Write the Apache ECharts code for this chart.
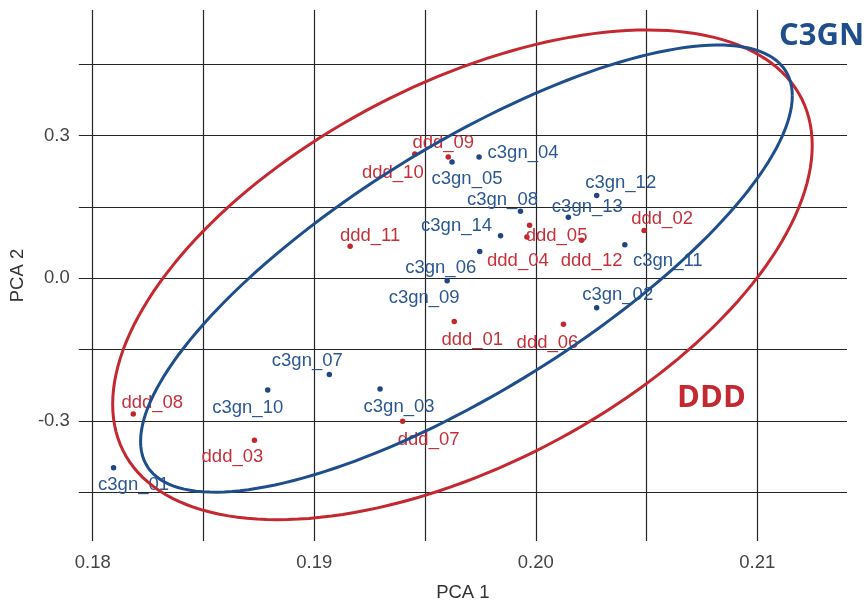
<!DOCTYPE html>
<html>
<head>
<meta charset="utf-8">
<script src="https://cdn.jsdelivr.net/npm/echarts@6/dist/echarts.min.js"></script>
<style>html,body{margin:0;padding:0;background:#fff}#c{width:866px;height:607px}</style>
</head>
<body>
<div id="c"></div>
<script>
// ---- data ----
var c3gnNames = ['c3gn_01','c3gn_02','c3gn_03','c3gn_04','c3gn_05','c3gn_06','c3gn_07','c3gn_08','c3gn_09','c3gn_10','c3gn_11','c3gn_12','c3gn_13','c3gn_14'];
var c3gnX = [0.18094,0.20275,0.19297,0.19744,0.19622,0.19747,0.19068,0.19931,0.19600,0.18790,0.20402,0.20275,0.20147,0.19841];
var c3gnY = [-0.3983,-0.0622,-0.2330,0.2546,0.2442,0.0560,-0.2025,0.1405,-0.0054,-0.2351,0.0705,0.1737,0.1280,0.0892];

var dddNames = ['ddd_01','ddd_02','ddd_03','ddd_04','ddd_05','ddd_06','ddd_07','ddd_08','ddd_09','ddd_10','ddd_11','ddd_12'];
var dddX = [0.19632,0.20489,0.18730,0.19960,0.19972,0.20125,0.19399,0.18183,0.19605,0.19454,0.19162,0.20207];
var dddY = [-0.0913,0.1004,-0.3409,0.0865,0.1114,-0.0967,-0.3008,-0.2855,0.2546,0.2608,0.0672,0.0797];

// ellipses: centre x, centre y, first half-axis vector (dx, dy), second half-axis vector (dx, dy)
var c3gnEllipse = [0.19687, 0.0201, 0.014710, 0.3631, 0, -0.2983];
var dddEllipse  = [0.19669, 0.0070, 0.015790, 0.2719, 0, -0.4370];

var xGridValues = [0.18,0.185,0.19,0.195,0.20,0.205,0.21];
var xLabelValues = [0.18,0.19,0.20,0.21];
var yGridValues = [-0.45,-0.3,-0.15,0,0.15,0.3,0.45];
var yLabelValues = [-0.3,0,0.3];

// ---- label placement (pixel offsets of each label centre from its point) ----
var c3gnLabelOffsets = [[20,16],[21,-14],[19,16.5],[44,-5.5],[15,15],[-39,15],[-22,-15],[-18,-12.5],[-23,16],[-20,16.5],[43,15],[24,-14.5],[19,-11.5],[-44,-11]];
var dddLabelOffsets = [[18,17],[18,-13],[-22,15.5],[-9,22.5],[27,9.5],[-16,17],[26,17],[19,-13],[-5,-16],[-22,17.5],[20,-12],[10,19]];

var BLUE = '#1f4e8c';
var RED = '#c42830';
var BLUE_PT = '#1f4584';
var RED_PT = '#c1272d';
var BLUE_TXT = '#2b5894';
var RED_TXT = '#c5303a';
var FONT = 'Liberation Sans, Arial, Helvetica, sans-serif';

function buildPoints(names, xs, ys) {
  return names.map(function (n, i) {
    return { name: n, value: [xs[i], ys[i]] };
  });
}

function ellipseRender(color) {
  return function (params, api) {
    var cx = api.value(0), cy = api.value(1), ux = api.value(2), uy = api.value(3), vx = api.value(4), vy = api.value(5);
    var pts = [];
    var N = 180;
    for (var k = 0; k <= N; k++) {
      var t = 2 * Math.PI * k / N;
      pts.push(api.coord([cx + ux * Math.cos(t) + vx * Math.sin(t), cy + uy * Math.cos(t) + vy * Math.sin(t)]));
    }
    return {
      type: 'polyline',
      shape: { points: pts, smooth: 0 },
      style: { fill: null, stroke: color, lineWidth: 3 }
    };
  };
}

function layoutFrom(offsets) {
  return function (params) {
    var o = offsets[params.dataIndex] || [0, 0];
    return { dx: o[0], dy: o[1] + 1.5, hideOverlap: false };
  };
}

var chart = echarts.init(document.getElementById('c'), null, { renderer: 'canvas' });

var scatterLabel = function (color) {
  return {
    show: true,
    position: 'inside',
    formatter: '{b}',
    color: color,
    fontFamily: FONT,
    fontSize: 18.5,
    align: 'center',
    verticalAlign: 'middle'
  };
};

chart.setOption({
  backgroundColor: '#fff',
  animation: false,
  grid: { left: 76, right: 19, top: 10, bottom: 59, containLabel: false },
  xAxis: {
    type: 'value',
    min: 0.17937,
    max: 0.21405,
    name: 'PCA 1',
    nameLocation: 'middle',
    nameGap: 42,
    nameTextStyle: { fontFamily: FONT, fontSize: 18.5, color: '#333' },
    axisLine: { show: false },
    axisTick: { show: false, customValues: xGridValues },
    axisLabel: {
      customValues: xLabelValues,
      formatter: function (v) { return v.toFixed(2); },
      fontFamily: FONT, fontSize: 18.5, color: '#444', margin: 12
    },
    splitLine: { show: true, lineStyle: { color: '#262626', width: 1.2 } }
  },
  yAxis: {
    type: 'value',
    min: -0.5525,
    max: 0.5637,
    name: 'PCA 2',
    nameLocation: 'middle',
    nameGap: 45,
    nameRotate: 90,
    nameTextStyle: { fontFamily: FONT, fontSize: 18.5, color: '#333' },
    axisLine: { show: false },
    axisTick: { show: false, customValues: yGridValues },
    axisLabel: {
      customValues: yLabelValues,
      formatter: function (v) { return v.toFixed(1); },
      fontFamily: FONT, fontSize: 18.5, color: '#444', margin: 9
    },
    splitLine: { show: true, lineStyle: { color: '#262626', width: 1.2 } }
  },
  series: [
    {
      type: 'scatter',
      name: 'DDD',
      symbol: 'circle',
      symbolSize: 5.5,
      itemStyle: { color: RED_PT, opacity: 1 },
      label: scatterLabel(RED_TXT),
      labelLayout: layoutFrom(dddLabelOffsets),
      data: buildPoints(dddNames, dddX, dddY),
      z: 3
    },
    {
      type: 'scatter',
      name: 'C3GN',
      symbol: 'circle',
      symbolSize: 5.5,
      itemStyle: { color: BLUE_PT, opacity: 1 },
      label: scatterLabel(BLUE_TXT),
      labelLayout: layoutFrom(c3gnLabelOffsets),
      data: buildPoints(c3gnNames, c3gnX, c3gnY),
      z: 3
    },
    {
      type: 'custom',
      name: 'DDD ellipse',
      renderItem: ellipseRender(RED),
      encode: { x: 0, y: 1 },
      data: [dddEllipse],
      silent: true,
      z: 5
    },
    {
      type: 'custom',
      name: 'C3GN ellipse',
      renderItem: ellipseRender(BLUE),
      encode: { x: 0, y: 1 },
      data: [c3gnEllipse],
      silent: true,
      z: 6
    }
  ],
  graphic: [
    {
      type: 'text',
      left: 779,
      top: 21,
      style: { text: 'C3GN', fill: BLUE, font: 'bold 31px "Open Sans", sans-serif' },
      z: 10
    },
    {
      type: 'text',
      left: 677,
      top: 383,
      style: { text: 'DDD', fill: RED, font: 'bold 31px "Open Sans", sans-serif' },
      z: 10
    }
  ]
});
</script>
</body>
</html>
